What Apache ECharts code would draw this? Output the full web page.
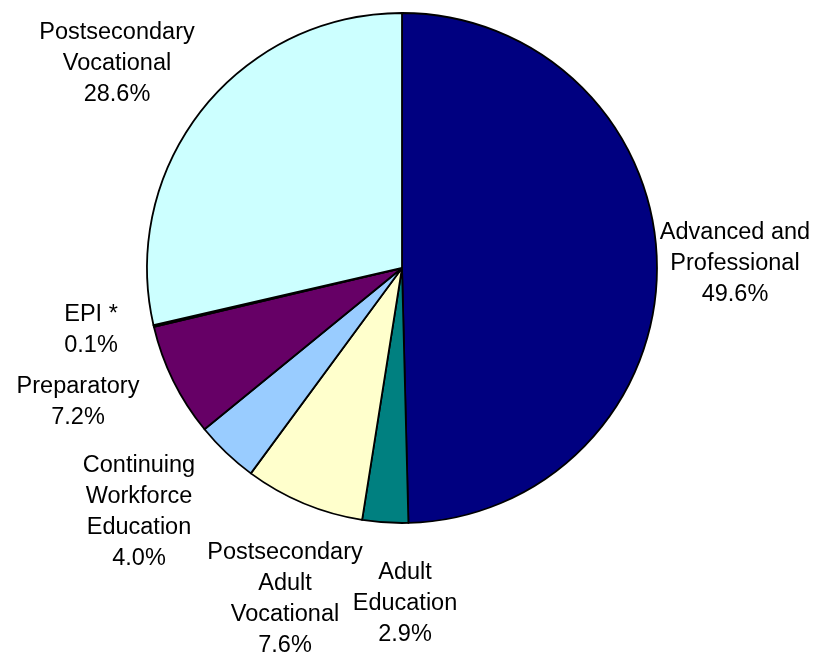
<!DOCTYPE html>
<html>
<head>
<meta charset="utf-8">
<script src="https://cdn.jsdelivr.net/npm/echarts@6/dist/echarts.min.js"></script>
<style>
html,body{margin:0;padding:0;background:#fff;}
#main{width:826px;height:652px;}
</style>
</head>
<body>
<div id="main"></div>
<script>
var categories = [
  'Advanced and\nProfessional',
  'Adult\nEducation',
  'Postsecondary\nAdult\nVocational',
  'Continuing\nWorkforce\nEducation',
  'Preparatory',
  'EPI *',
  'Postsecondary\nVocational'
];
var values = [49.6, 2.9, 7.6, 4.0, 7.2, 0.1, 28.6];
var colors = ['#000080', '#008080', '#FFFFCC', '#99CCFF', '#660066', '#660066', '#CCFFFF'];
// label anchor (text centre) positions in pixels
var labelPos = [
  [735, 264],
  [405, 604],
  [285, 599],
  [139, 512],
  [78, 402],
  [91, 330],
  [117, 64]
];

var chart = echarts.init(document.getElementById('main'));
var data = categories.map(function (c, i) {
  return { name: c, value: values[i], itemStyle: { color: colors[i] } };
});
chart.setOption({
  animation: false,
  backgroundColor: '#ffffff',
  series: [{
    type: 'pie',
    center: [402, 268],
    radius: 255,
    startAngle: 90,
    clockwise: true,
    avoidLabelOverlap: false,
    data: data,
    itemStyle: { borderColor: '#000000', borderWidth: 1.8 },
    emphasis: { disabled: true },
    label: {
      show: true,
      position: 'outside',
      formatter: function (p) { return p.name + '\n' + p.value.toFixed(1) + '%'; },
      fontFamily: 'Liberation Sans, Arial, sans-serif',
      fontSize: 23.5,
      lineHeight: 31,
      color: '#000000',
      align: 'center'
    },
    labelLine: { show: false },
    labelLayout: function (p) {
      var pos = labelPos[p.dataIndex];
      return { x: pos[0], y: pos[1], align: 'center', verticalAlign: 'middle' };
    }
  }]
});
</script>
</body>
</html>
